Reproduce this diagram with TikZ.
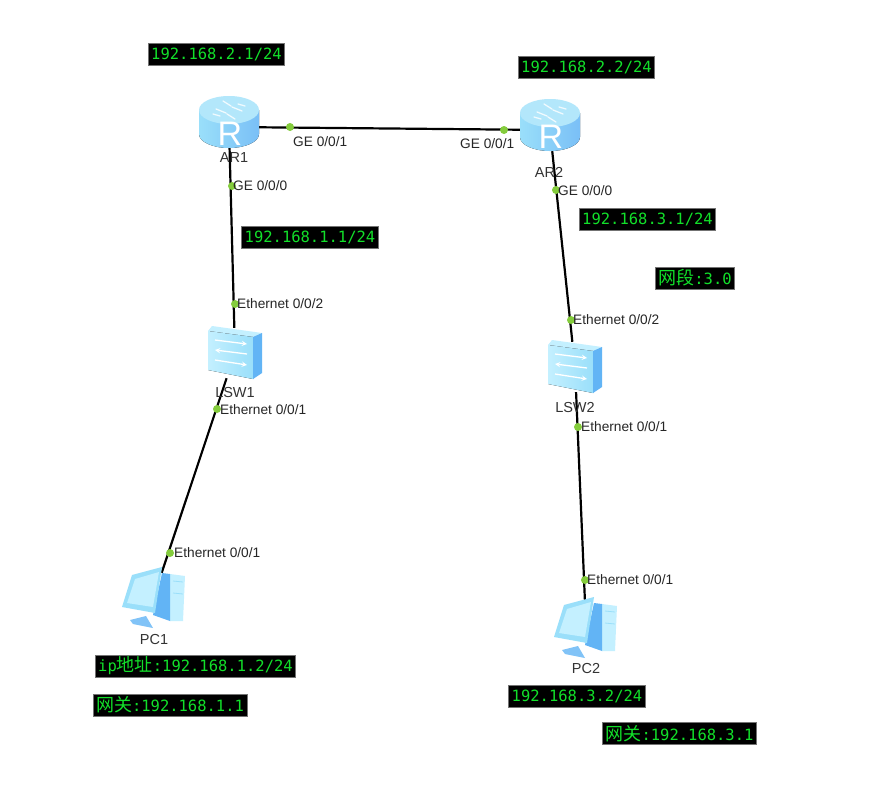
\documentclass[tikz,border=0pt]{standalone}
\usepackage{fontspec}
\setmainfont{Liberation Sans}
\newfontfamily\monofont{DejaVu Sans Mono}
\newfontfamily\cjkfont{Noto Sans CJK SC}
\newcommand{\wangguan}{{\cjkfont\fontsize{18}{18}\selectfont 网关}}
\newcommand{\dizhi}{{\cjkfont\fontsize{18}{18}\selectfont 地址}}
\newcommand{\wangduan}{{\cjkfont\fontsize{18}{18}\selectfont 网段}}
\definecolor{devlight}{HTML}{C4F0FF}
\definecolor{devmid}{HTML}{9ADFFA}
\definecolor{devblue}{HTML}{62B4F5}
\definecolor{portgreen}{HTML}{84CC3C}
\definecolor{ipgreen}{HTML}{12E02A}
\tikzset{
  device/.style={rectangle, inner sep=0pt},
  port/.style={circle, fill=portgreen, inner sep=0pt, minimum size=8pt},
  porttext/.style={anchor=west, inner sep=0pt, font=\fontsize{13.7}{14}\selectfont, text=black!85},
  devname/.style={inner sep=0pt, font=\fontsize{14.5}{15}\selectfont, text=black!80},
  iptag/.style={fill=black, draw=black!55, line width=0.7pt, text=ipgreen, inner xsep=3pt, inner ysep=0pt,
    minimum height=22pt, font=\monofont\fontsize{15.5}{16}\selectfont},
  link/.style={draw=black, line width=2.2pt},
  routericon/.pic={
    \fill[left color=devmid, right color=devblue!85] (-30,-17) -- (-30,7) arc[start angle=180, end angle=0, x radius=30, y radius=14] -- (30,-17) -- cycle;
    \fill[devmid!75!white] (0,-17) ellipse[x radius=30, y radius=14];
    \draw[white!85!devmid, line width=1.3pt, line cap=round] (-13,-18) -- (-3,-14) (13,-16) -- (3,-20) (-6,-26) -- (2,-21) (6,-8) -- (-2,-13) (-16,-13) -- (-9,-11) (16,-21) -- (9,-23);
    \node[inner sep=0pt, text=white, font=\fontsize{34}{34}\selectfont] (-letter) at (1,7) {R};
  },
  switchicon/.pic={
    \fill[devlight] (-23,-27) -- (27,-20) -- (18,-16) -- (-27,-22) -- cycle;
    \fill[left color=devlight, right color=devmid] (-27,-22) -- (18,-16) -- (18,26) -- (-27,17) -- cycle;
    \fill[devblue] (18,-16) -- (27,-20) -- (27,20) -- (18,26) -- cycle;
    \draw[white, line width=1.3pt, ->, >=stealth] (-20,-13) -- (12,-9);
    \draw[white, line width=1.3pt, <-, >=stealth] (-20,-3) -- (12,1);
    \draw[white, line width=1.3pt, ->, >=stealth] (-20,7) -- (12,12);
  },
  pcicon/.pic={
    \fill[devblue!80] (-24,24) -- (-8,20) -- (-1,32) -- (-21,28) -- cycle;
    \fill[devlight] (16,-22) -- (31,-20) -- (29,25) -- (16,25) -- cycle;
    \fill[devblue] (8,-23) -- (16,-22) -- (16,25) -- (-1,19) -- cycle;
    \draw[devmid, line width=0.8pt] (19,-15) -- (29,-14) (19,-3) -- (29,-2);
    \fill[devmid] (-22,-21) -- (8,-29) -- (1,17) -- (-32,11) -- cycle;
    \fill[devlight] (-19,-17) -- (5,-24) -- (-1,11) -- (-27,7) -- cycle;
  },
}
\begin{document}
\begin{tikzpicture}[x=1pt, y=-1pt]
\useasboundingbox[fill=white] (0,0) rectangle (878,800);
% devices
\node[device, minimum width=60pt, minimum height=42pt] (ar1) at (229,127) {};
\node[device, minimum width=60pt, minimum height=42pt] (ar2) at (550,130) {};
\node[device, minimum width=54pt, minimum height=50pt] (lsw1) at (235,353) {};
\node[device, minimum width=54pt, minimum height=50pt] (lsw2) at (575,367) {};
\node[device, minimum width=40pt, minimum height=46pt] (pc1) at (154,596) {};
\node[device, minimum width=40pt, minimum height=46pt] (pc2) at (586,626) {};
% links
\draw[link] (ar1) -- (ar2);
\draw[link] (ar1) -- (lsw1);
\draw[link] (lsw1) -- (pc1);
\draw[link] (ar2) -- (lsw2);
\draw[link] (lsw2) -- (pc2);
% ports
\node[port] (ar1e) at (290,127) {};
\node[port] (ar2w) at (504,130) {};
\node[port] (ar1s) at (232,186) {};
\node[port] (lsw1n) at (235,304) {};
\node[port] (lsw1s) at (217,409) {};
\node[port] (pc1n) at (170,553) {};
\node[port] (ar2s) at (556,190) {};
\node[port] (lsw2n) at (571,320) {};
\node[port] (lsw2s) at (578,427) {};
\node[port] (pc2n) at (585,580) {};
% icons
\pic (ar1icon) at (ar1) {routericon};
\pic (ar2icon) at (ar2) {routericon};
\pic at (lsw1) {switchicon};
\pic at (lsw2) {switchicon};
\pic at (pc1) {pcicon};
\pic at (pc2) {pcicon};
% names
\node[devname] (ar1name) at (234,158) {AR1};
\node[devname] (ar2name) at (549,172) {AR2};
\node[devname] (lsw1name) at (235,393) {LSW1};
\node[devname] (lsw2name) at (575,408) {LSW2};
\node[devname] (pc1name) at (154,640) {PC1};
\node[devname] (pc2name) at (586,669) {PC2};
% port texts
\node[porttext] (ar1et) at (293,142) {GE 0/0/1};
\node[porttext] (ar2wt) at (460,144) {GE 0/0/1};
\node[porttext] (ar1st) at (233,186) {GE 0/0/0};
\node[porttext] (lsw1nt) at (237,304) {Ethernet 0/0/2};
\node[porttext] (lsw1st) at (220,410) {Ethernet 0/0/1};
\node[porttext] (pc1nt) at (174,553) {Ethernet 0/0/1};
\node[porttext] (ar2st) at (558,191) {GE 0/0/0};
\node[porttext] (lsw2nt) at (573,320) {Ethernet 0/0/2};
\node[porttext] (lsw2st) at (581,427) {Ethernet 0/0/1};
\node[porttext] (pc2nt) at (587,580) {Ethernet 0/0/1};
% ip tags
\node[iptag] (ip21) at (216.5,54) {192.168.2.1/24};
\node[iptag] (ip22) at (586.5,67) {192.168.2.2/24};
\node[iptag] (ip11) at (310,237) {192.168.1.1/24};
\node[iptag] (ip31) at (647.5,219) {192.168.3.1/24};
\node[iptag] (seg3) at (695,278) {\wangduan:3.0};
\node[iptag] (ip12) at (195.5,666) {ip\dizhi:192.168.1.2/24};
\node[iptag] (gw1) at (170,705) {\wangguan:192.168.1.1};
\node[iptag] (ip32) at (577,696) {192.168.3.2/24};
\node[iptag] (gw3) at (679.5,733.5) {\wangguan:192.168.3.1};
\end{tikzpicture}
\end{document}
